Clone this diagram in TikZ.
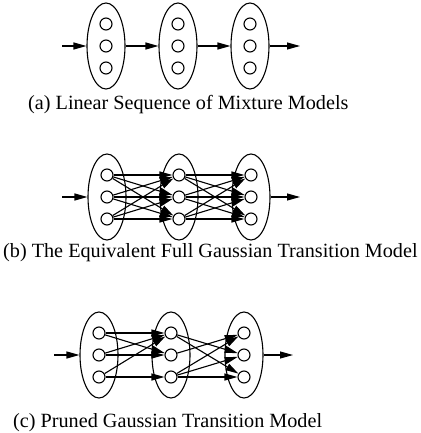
\documentclass[tikz,border=0pt]{standalone}
\usepackage{fontspec}
\setmainfont{Liberation Serif}
\usetikzlibrary{arrows.meta, shapes.geometric}

\begin{document}
\begin{tikzpicture}[
  x=1pt, y=1pt,
  mix/.style={
    draw, ellipse, line width=1.1pt,
    minimum width=38pt, minimum height=86pt, inner sep=0pt
  },
  comp/.style={draw, circle, line width=1.1pt, minimum size=12pt, inner sep=0pt},
  arr/.style={-{Triangle[length=13pt, width=7pt]}, line width=1.1pt},
  subcap/.style={anchor=base west, inner sep=0pt, font=\fontsize{20.2}{24}\selectfont}
]
\useasboundingbox (0,0) rectangle (420,-433);

  % (a) lineare Folge von Mischmodellen
\foreach \g/\x in {1/106,2/178,3/250} {
  \node[mix] (a\g) at (\x,-46) {};
  \foreach \k in {1,2,3}
    \node[comp] (a\g-\k) at (\x,{-46-22*(\k-2)}) {};
}
\coordinate (ain) at (62,-46);
\coordinate (aout) at (300,-46);
\node[subcap] (capa) at (28,-110) {(a) Linear Sequence of Mixture Models};

  \draw[arr] (ain) -- (a1.west);
  \draw[arr] (a1.east) -- (a2.west);
  \draw[arr] (a2.east) -- (a3.west);
  \draw[arr] (a3.east) -- (aout);

  % (b) volles Uebergangsmodell
\foreach \g/\x in {1/107,2/179,3/251} {
  \node[mix] (b\g) at (\x,-197) {};
  \foreach \k in {1,2,3}
    \node[comp] (b\g-\k) at (\x,{-197-22*(\k-2)}) {};
}
\coordinate (bin) at (62,-197);
\coordinate (bout) at (300,-197);
\node[subcap] (capb) at (3,-257) {(b) The Equivalent Full Gaussian Transition Model};

  \draw[arr] (bin) -- (b1.west);
  \draw[arr] (b3.east) -- (bout);
  \foreach \g/\h in {1/2,2/3}
    \foreach \i in {1,2,3}
      \foreach \j in {1,2,3}
        \draw[arr] (b\g-\i) -- (b\h-\j);

  % (c) ausgeduenntes Modell
\foreach \g/\x in {1/99,2/171,3/244} {
  \node[mix] (c\g) at (\x,-355) {};
  \foreach \k in {1,2,3}
    \node[comp] (c\g-\k) at (\x,{-355-22*(\k-2)}) {};
}
\coordinate (cin) at (54,-355);
\coordinate (cout) at (293,-355);
\node[subcap] (capc) at (13,-427) {(c) Pruned Gaussian Transition Model};

  \draw[arr] (cin) -- (c1.west);
  \draw[arr] (c3.east) -- (cout);
  \foreach \i/\j in {1/1,1/2,2/1,2/2,3/1,3/3}
    \draw[arr] (c1-\i) -- (c2-\j);
  \foreach \i/\j in {1/2,1/3,2/1,3/1,3/2,3/3}
    \draw[arr] (c2-\i) -- (c3-\j);

\end{tikzpicture}
\end{document}
